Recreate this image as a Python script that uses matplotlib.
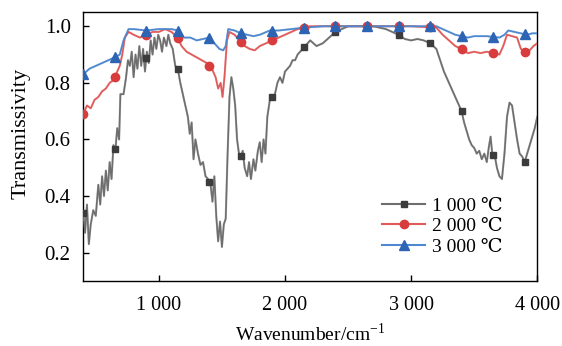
import numpy as np
import matplotlib.pyplot as plt

plt.rcParams['font.family'] = ['Liberation Serif', 'DejaVu Serif']
plt.rcParams['font.size'] = 14
plt.rcParams['mathtext.fontset'] = 'custom'
plt.rcParams['mathtext.rm'] = 'Liberation Serif'

# 1 000 ℃
x1 = [400, 415, 430, 445, 460, 480, 500, 520, 535, 550, 565, 580, 595, 610, 625, 640, 655, 670,
      685, 695, 720, 740, 755, 770, 785, 800, 815, 830, 845, 860, 875, 890, 905, 920, 935, 950,
      965, 980, 995, 1010, 1025, 1040, 1060, 1075, 1090, 1110, 1130, 1150, 1170, 1190, 1210,
      1230, 1245, 1260, 1275, 1290, 1310, 1330, 1350, 1370, 1390, 1410, 1425, 1440, 1455, 1470,
      1485, 1500, 1515, 1530, 1545, 1560, 1575, 1590, 1605, 1620, 1635, 1650, 1665, 1680, 1700,
      1715, 1730, 1750, 1765, 1785, 1800, 1815, 1830, 1845, 1860, 1880, 1900, 1920, 1940, 1960,
      1980, 2000, 2020, 2040, 2060, 2080, 2100, 2120, 2140, 2160, 2180, 2200, 2250, 2300, 2350,
      2400, 2450, 2500, 2600, 2700, 2800, 2850, 2900, 2950, 3000, 3050, 3100, 3150, 3200, 3230,
      3260, 3290, 3320, 3350, 3380, 3400, 3420, 3440, 3460, 3480, 3500, 3520, 3540, 3560, 3580,
      3600, 3615, 3630, 3645, 3660, 3680, 3700, 3720, 3740, 3760, 3780, 3800, 3820, 3840, 3860,
      3880, 3900, 3920, 3940, 3960, 3980, 4000]
y1 = [0.34, 0.27, 0.37, 0.23, 0.30, 0.35, 0.33, 0.44, 0.37, 0.47, 0.40, 0.49, 0.42, 0.52, 0.46,
      0.58, 0.56, 0.64, 0.60, 0.76, 0.76, 0.82, 0.88, 0.86, 0.91, 0.82, 0.90, 0.85, 0.93, 0.86,
      0.92, 0.84, 0.91, 0.87, 0.95, 0.90, 0.96, 0.92, 0.97, 0.95, 0.91, 0.96, 0.93, 0.97, 0.94,
      0.92, 0.86, 0.85, 0.80, 0.76, 0.72, 0.68, 0.62, 0.66, 0.53, 0.60, 0.55, 0.51, 0.52, 0.47,
      0.46, 0.44, 0.38, 0.47, 0.33, 0.24, 0.31, 0.22, 0.30, 0.32, 0.55, 0.75, 0.82, 0.78, 0.72,
      0.60, 0.55, 0.54, 0.56, 0.50, 0.47, 0.52, 0.46, 0.53, 0.49, 0.56, 0.59, 0.52, 0.60, 0.55,
      0.68, 0.74, 0.75, 0.76, 0.80, 0.82, 0.80, 0.84, 0.85, 0.86, 0.88, 0.88, 0.90, 0.91, 0.92,
      0.93, 0.94, 0.95, 0.93, 0.94, 0.96, 0.98, 0.99, 1.00, 1.00, 1.00, 0.99, 0.98, 0.97, 0.955,
      0.95, 0.955, 0.95, 0.94, 0.92, 0.88, 0.84, 0.81, 0.78, 0.75, 0.72, 0.70, 0.66, 0.63, 0.60,
      0.58, 0.57, 0.55, 0.56, 0.53, 0.55, 0.52, 0.57, 0.61, 0.54, 0.55, 0.50, 0.47, 0.46, 0.55,
      0.68, 0.73, 0.72, 0.66, 0.60, 0.55, 0.54, 0.52, 0.55, 0.58, 0.61, 0.64, 0.68]

# 2 000 ℃
x2 = [400, 430, 460, 490, 520, 550, 580, 610, 640, 670, 690, 710, 730, 760, 800, 850, 900, 950,
      1000, 1050, 1100, 1150, 1180, 1220, 1260, 1300, 1340, 1380, 1420, 1450, 1470, 1490, 1505,
      1520, 1540, 1560, 1600, 1640, 1680, 1720, 1760, 1800, 1850, 1900, 1950, 2000, 2050, 2100,
      2200, 2400, 2600, 2800, 3000, 3200, 3250, 3300, 3350, 3400, 3450, 3500, 3550, 3600, 3650,
      3700, 3730, 3760, 3800, 3840, 3870, 3900, 3940, 3970, 4000]
y2 = [0.69, 0.72, 0.71, 0.74, 0.75, 0.77, 0.78, 0.80, 0.81, 0.84, 0.86, 0.90, 0.96, 0.98, 0.97,
      0.96, 0.97, 0.98, 0.98, 0.99, 0.98, 0.96, 0.93, 0.91, 0.90, 0.89, 0.88, 0.87, 0.85, 0.82,
      0.78, 0.80, 0.75, 0.82, 0.95, 0.98, 0.97, 0.95, 0.93, 0.92, 0.915, 0.93, 0.94, 0.95, 0.96,
      0.97, 0.98, 0.99, 1.00, 1.00, 1.00, 1.00, 1.00, 0.995, 0.97, 0.95, 0.93, 0.92, 0.905, 0.91,
      0.905, 0.91, 0.905, 0.90, 0.93, 0.97, 0.965, 0.96, 0.92, 0.91, 0.915, 0.93, 0.94]

# 3 000 ℃
x3 = [400, 450, 500, 550, 600, 650, 690, 720, 760, 800, 900, 1000, 1100, 1150, 1200, 1250, 1300,
      1350, 1400, 1440, 1480, 1510, 1530, 1550, 1600, 1650, 1700, 1750, 1800, 1880, 1950, 2050,
      2150, 2300, 2600, 2900, 3200, 3250, 3300, 3350, 3400, 3450, 3500, 3600, 3700, 3740, 3770,
      3820, 3870, 3920, 3960, 4000]
y3 = [0.83, 0.85, 0.86, 0.87, 0.88, 0.89, 0.90, 0.95, 0.99, 0.99, 0.985, 0.99, 0.99, 0.985,
      0.96, 0.96, 0.95, 0.955, 0.96, 0.94, 0.92, 0.915, 0.93, 0.99, 0.985, 0.975, 0.97, 0.965,
      0.97, 0.985, 0.985, 0.99, 0.995, 1.00, 1.00, 1.00, 1.00, 0.99, 0.98, 0.97, 0.965, 0.96,
      0.965, 0.965, 0.96, 0.97, 0.985, 0.98, 0.975, 0.97, 0.975, 0.975]

labels = ['1 000 ℃', '2 000 ℃', '3 000 ℃']
mark_x = np.arange(400, 4001, 250)

fig = plt.figure(figsize=(5.62, 3.46), dpi=100)
ax = fig.add_axes([0.148, 0.188, 0.808, 0.777])

series = [(x1, y1, '#6e6e6e', '#3c3c3c', 's', 5),
          (x2, y2, '#e05a5a', '#d93c3c', 'o', 6),
          (x3, y3, '#4d88d0', '#2e64b4', '^', 6.5)]
for (xs, ys, lc, mc, mk, ms), lab in zip(series, labels):
    ax.plot(xs, ys, color=lc, lw=1.6, alpha=0.35, zorder=2)
    ax.plot(xs, ys, color=lc, lw=1.2, zorder=3)
    ax.plot(mark_x, np.interp(mark_x, xs, ys), ls='none', marker=mk, ms=ms,
            color=mc, zorder=4)
    ax.plot([], [], color=lc, lw=1.5, marker=mk, ms=ms, mfc=mc, mec=mc, label=lab)

ax.set_xlim(400, 4000)
ax.set_ylim(0.1, 1.05)
ax.set_xticks([1000, 2000, 3000, 4000])
ax.set_xticklabels(['1 000', '2 000', '3 000', '4 000'])
ax.set_yticks([0.2, 0.4, 0.6, 0.8, 1.0])
ax.tick_params(direction='in', length=4, width=1)
ax.tick_params(axis='y', pad=9, labelsize=15)
ax.tick_params(axis='x', pad=11, labelsize=14.5)
for s in ax.spines.values():
    s.set_linewidth(1)

ax.set_xlabel('Wavenumber/cm$^{-1}$', labelpad=5)
ax.set_ylabel('Transmissivity', fontsize=16)
ax.yaxis.set_label_coords(-0.115, 0.55)
ax.legend(loc='lower right', bbox_to_anchor=(0.945, 0.058), frameon=False,
          handlelength=2.2, handletextpad=0.35, labelspacing=0.15, borderpad=0)

fig.savefig('out.png', dpi=100)
